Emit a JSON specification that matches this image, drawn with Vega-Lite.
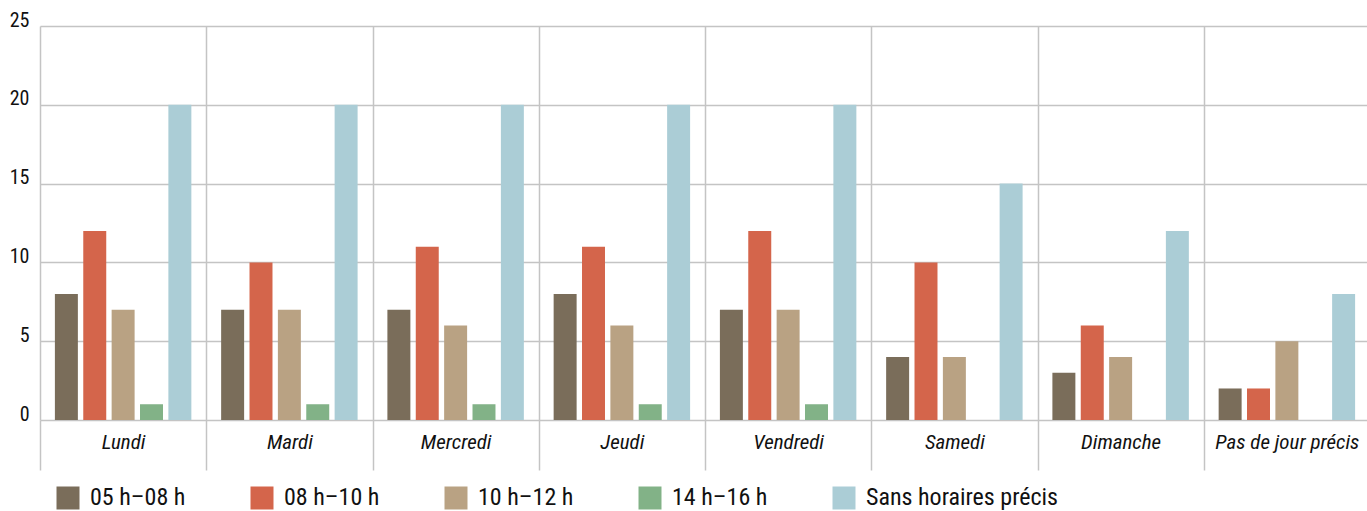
{
  "$schema": "https://vega.github.io/schema/vega-lite/v6.json",
  "autosize": "none",
  "width": 1330,
  "height": 394,
  "padding": {"left": 40, "top": 26, "right": 0, "bottom": 91},
  "background": "white",
  "config": {
    "font": "Roboto Condensed, Liberation Sans Narrow, DejaVu Sans Condensed, Roboto",
    "view": {"stroke": null}
  },
  "data": {
    "values": [
      {"day": "Lundi", "slot": "05 h–08 h", "value": 8},
      {"day": "Lundi", "slot": "08 h–10 h", "value": 12},
      {"day": "Lundi", "slot": "10 h–12 h", "value": 7},
      {"day": "Lundi", "slot": "14 h–16 h", "value": 1},
      {"day": "Lundi", "slot": "Sans horaires précis", "value": 20},
      {"day": "Mardi", "slot": "05 h–08 h", "value": 7},
      {"day": "Mardi", "slot": "08 h–10 h", "value": 10},
      {"day": "Mardi", "slot": "10 h–12 h", "value": 7},
      {"day": "Mardi", "slot": "14 h–16 h", "value": 1},
      {"day": "Mardi", "slot": "Sans horaires précis", "value": 20},
      {"day": "Mercredi", "slot": "05 h–08 h", "value": 7},
      {"day": "Mercredi", "slot": "08 h–10 h", "value": 11},
      {"day": "Mercredi", "slot": "10 h–12 h", "value": 6},
      {"day": "Mercredi", "slot": "14 h–16 h", "value": 1},
      {"day": "Mercredi", "slot": "Sans horaires précis", "value": 20},
      {"day": "Jeudi", "slot": "05 h–08 h", "value": 8},
      {"day": "Jeudi", "slot": "08 h–10 h", "value": 11},
      {"day": "Jeudi", "slot": "10 h–12 h", "value": 6},
      {"day": "Jeudi", "slot": "14 h–16 h", "value": 1},
      {"day": "Jeudi", "slot": "Sans horaires précis", "value": 20},
      {"day": "Vendredi", "slot": "05 h–08 h", "value": 7},
      {"day": "Vendredi", "slot": "08 h–10 h", "value": 12},
      {"day": "Vendredi", "slot": "10 h–12 h", "value": 7},
      {"day": "Vendredi", "slot": "14 h–16 h", "value": 1},
      {"day": "Vendredi", "slot": "Sans horaires précis", "value": 20},
      {"day": "Samedi", "slot": "05 h–08 h", "value": 4},
      {"day": "Samedi", "slot": "08 h–10 h", "value": 10},
      {"day": "Samedi", "slot": "10 h–12 h", "value": 4},
      {"day": "Samedi", "slot": "Sans horaires précis", "value": 15},
      {"day": "Dimanche", "slot": "05 h–08 h", "value": 3},
      {"day": "Dimanche", "slot": "08 h–10 h", "value": 6},
      {"day": "Dimanche", "slot": "10 h–12 h", "value": 4},
      {"day": "Dimanche", "slot": "Sans horaires précis", "value": 12},
      {"day": "Pas de jour précis", "slot": "05 h–08 h", "value": 2},
      {"day": "Pas de jour précis", "slot": "08 h–10 h", "value": 2},
      {"day": "Pas de jour précis", "slot": "10 h–12 h", "value": 5},
      {"day": "Pas de jour précis", "slot": "Sans horaires précis", "value": 8}
    ]
  },
  "mark": {"type": "bar"},
  "encoding": {
    "x": {
      "field": "day",
      "type": "nominal",
      "sort": ["Lundi", "Mardi", "Mercredi", "Jeudi", "Vendredi", "Samedi", "Dimanche", "Pas de jour précis"],
      "scale": {"paddingInner": 0, "paddingOuter": 0},
      "axis": {
        "title": null,
        "orient": "bottom",
        "domain": false,
        "tickBand": "extent",
        "ticks": true,
        "tickSize": 50,
        "tickColor": "#c4c4c4",
        "tickWidth": 1.5,
        "grid": true,
        "gridColor": "#c4c4c4",
        "gridWidth": 1.5,
        "labelAngle": 0,
        "labelFontStyle": "italic",
        "labelFontSize": 21,
        "labelColor": "#111111",
        "labelPadding": -22,
        "labelBaseline": "alphabetic"
      }
    },
    "xOffset": {
      "field": "slot",
      "type": "nominal",
      "scale": {"paddingInner": 0.19, "paddingOuter": 0.525}
    },
    "y": {
      "field": "value",
      "type": "quantitative",
      "scale": {"domain": [0, 25]},
      "axis": {
        "title": null,
        "values": [0, 5, 10, 15, 20, 25],
        "domain": false,
        "ticks": false,
        "grid": true,
        "gridColor": "#c4c4c4",
        "gridWidth": 1.5,
        "labelFontSize": 20,
        "labelColor": "#111111",
        "labelPadding": 11,
        "labelBaseline": "alphabetic"
      }
    },
    "color": {
      "field": "slot",
      "type": "nominal",
      "scale": {
        "domain": ["05 h–08 h", "08 h–10 h", "10 h–12 h", "14 h–16 h", "Sans horaires précis"],
        "range": ["#7a6d5a", "#d4654b", "#b9a283", "#82b287", "#abcdd6"]
      },
      "legend": {
        "title": null,
        "orient": "none",
        "direction": "horizontal",
        "legendX": 16,
        "legendY": 460,
        "padding": 0,
        "symbolType": "square",
        "symbolSize": 529,
        "symbolStrokeWidth": 0,
        "symbolOpacity": 1,
        "labelFontSize": 24,
        "labelLimit": 400,
        "labelColor": "#111111",
        "labelOffset": 10,
        "columnPadding": 64
      }
    }
  }
}
